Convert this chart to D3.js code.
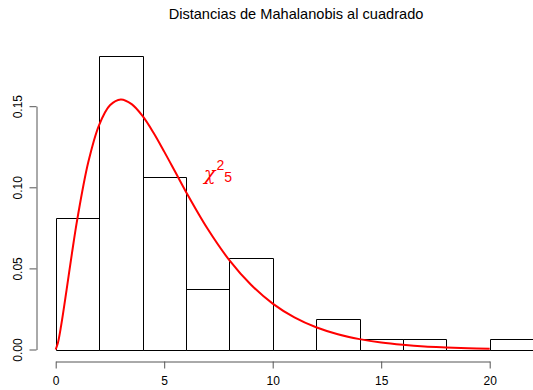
<!DOCTYPE html>
<html>
<head>
<meta charset="utf-8">
<script src="https://cdn.jsdelivr.net/npm/d3@7"></script>
<style>
  html, body { margin: 0; padding: 0; background: #fff; }
  svg { display: block; font-family: "Liberation Sans", Arial, Helvetica, sans-serif; }
</style>
</head>
<body>
<svg id="chart" width="533" height="390"></svg>
<script>
// Histogram bins (width 2) and densities
const binStarts = [0, 2, 4, 6, 8, 10, 12, 14, 16, 18, 20];
const binWidth = 2;
const densities = [0.08125, 0.18125, 0.10625, 0.0375, 0.05625, 0, 0.01875, 0.00625, 0.00625, 0, 0.00625];

// Chi-square (5 df) curve points
const curveX = [0, 0.1, 0.25, 0.5, 0.75, 1, 1.5, 2, 2.5, 3, 3.5, 4, 4.5, 5, 5.5, 6, 7, 8, 9, 10, 11, 12, 13, 14, 15, 16, 17, 18, 19, 20];
const curveY = [0, 0.0040, 0.0147, 0.0366, 0.0594, 0.0807, 0.1154, 0.1384, 0.1506, 0.1542, 0.1513, 0.1440, 0.1338, 0.1220, 0.1097, 0.0973, 0.0744, 0.0551, 0.0399, 0.0283, 0.0198, 0.0137, 0.0094, 0.0064, 0.0043, 0.0029, 0.0019, 0.0013, 0.0008, 0.0005];

const xTicks = [0, 5, 10, 15, 20];
const yTicks = [0, 0.05, 0.10, 0.15];
const yTickLabels = ["0.00", "0.05", "0.10", "0.15"];
const title = "Distancias de Mahalanobis al cuadrado";

const svg = d3.select("#chart");

const x = d3.scaleLinear().domain([0, 22]).range([55.7, 533.1]);
const y = d3.scaleLinear().domain([0, 0.15]).range([349.5, 106.2]);

// Title
svg.append("text")
  .attr("x", 296).attr("y", 18.5)
  .attr("text-anchor", "middle")
  .attr("font-size", "14.6px")
  .attr("fill", "#000")
  .text(title);

// Bars (drawn as closed paths so empty bins still show their base line)
svg.append("g").selectAll("path")
  .data(binStarts.map((s, i) => ({ s, d: densities[i] })))
  .join("path")
  .attr("d", d => {
    const x0 = Math.round(x(d.s)) + 0.5, x1 = Math.round(x(d.s + binWidth)) + 0.5;
    const y0 = Math.round(y(0)) + 0.5, y1 = Math.round(y(d.d)) + 0.5;
    return `M${x0},${y0}L${x0},${y1}L${x1},${y1}L${x1},${y0}Z`;
  })
  .attr("fill", "none")
  .attr("stroke", "#000")
  .attr("stroke-width", 1);

// Curve
const pts = curveX.map((v, i) => [v, curveY[i]]);
svg.append("path")
  .datum(pts)
  .attr("d", d3.line().x(d => x(d[0])).y(d => y(d[1])).curve(d3.curveCatmullRom.alpha(0.5)))
  .attr("fill", "none")
  .attr("stroke", "#ff0000")
  .attr("stroke-width", 2);

// Label chi^2_5
const lab = svg.append("text")
  .attr("x", 204).attr("y", 180)
  .attr("fill", "#ff0000")
  .attr("font-size", "19px");
lab.append("tspan").attr("font-family", "DejaVu Serif, serif").attr("font-style", "italic").text("χ");
lab.append("tspan").attr("font-size", "14px").attr("dx", 1).attr("dy", -10).text("2");
lab.append("tspan").attr("font-size", "14px").attr("dy", 12).text("5");

// X axis
const xAxisScale = d3.scaleLinear().domain([0, 20]).range([x(0), x(20)]);
const gx = svg.append("g")
  .attr("transform", "translate(0,361.5)")
  .call(d3.axisBottom(xAxisScale).tickValues(xTicks).tickSize(7).tickSizeOuter(0).tickPadding(8).tickFormat(d3.format("d")));
gx.select(".domain").attr("stroke", "#555");
gx.selectAll(".tick line").attr("stroke", "#555");
gx.selectAll("text").attr("font-size", "12px").attr("fill", "#000").attr("font-family", "Liberation Sans, Arial, sans-serif");

// Y axis
const gy = svg.append("g")
  .attr("transform", "translate(36.5,0)")
  .call(d3.axisLeft(y).tickValues(yTicks).tickSize(7).tickSizeOuter(0).tickPadding(8)
    .tickFormat((d, i) => yTickLabels[i]));
gy.select(".domain").attr("stroke", "#555");
gy.selectAll(".tick line").attr("stroke", "#555");
gy.selectAll(".tick text")
  .attr("font-size", "12px").attr("fill", "#000").attr("font-family", "Liberation Sans, Arial, sans-serif")
  .attr("transform", "rotate(-90)")
  .attr("x", 0).attr("y", -14.5)
  .attr("dy", "0")
  .attr("text-anchor", "middle");
</script>
</body>
</html>
